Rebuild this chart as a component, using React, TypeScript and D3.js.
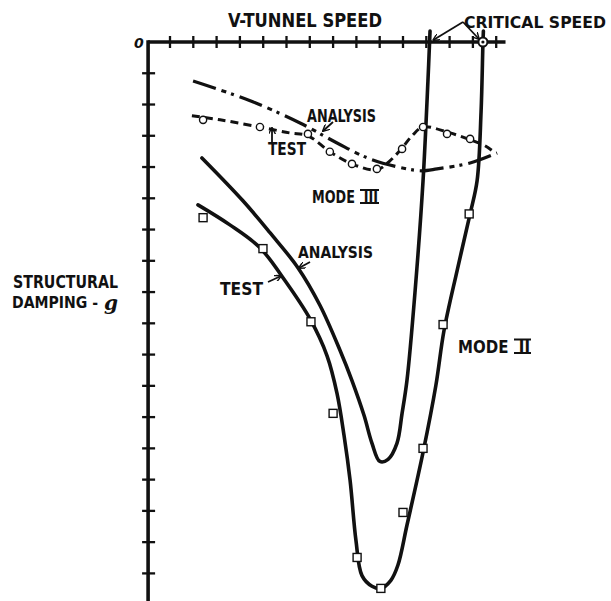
import React from "react";
import * as d3 from "d3";

// Axis ticks (V-tunnel speed units, structural damping units)
const xTicks = [1, 2, 3, 4, 5, 6, 7, 8, 9, 10, 11, 12, 13, 14, 15];
const yTicks = [-1, -2, -3, -4, -5, -6, -7, -8, -9, -10, -11, -12, -13, -14, -15, -16, -17];

// Critical speeds
const criticalSpeeds = [12.13, 14.43];

// Mode II – analysis curve [speed, g]
const mode2AnalysisX = [2.37, 4.13, 5.29, 6.49, 7.44, 8.3, 8.81, 9.33, 9.67, 10.01, 10.36, 10.74, 10.96, 11.17, 11.52, 11.86, 12.07, 12.16];
const mode2AnalysisY = [-3.71, -5.08, -6.1, -7.22, -8.43, -9.87, -10.83, -11.95, -12.84, -13.42, -13.35, -12.84, -11.88, -10.83, -7.96, -4.44, -1.25, 0.35];

// Mode II – test curve
const mode2TestX = [2.2, 3.57, 4.86, 5.94, 7.01, 7.74, 8.17, 8.47, 8.73, 8.98, 9.24, 9.67, 10.05, 10.48, 10.78, 11.17, 11.86, 12.41, 12.76, 13.32, 13.88, 14.18, 14.35, 14.43, 14.45];
const mode2TestY = [-5.21, -5.85, -6.58, -7.64, -8.86, -10.04, -11.25, -12.59, -14.03, -15.94, -17.07, -17.41, -17.48, -17.22, -16.74, -15.46, -13.13, -10.99, -9.23, -7.32, -5.5, -4.44, -2.24, -0.06, 0.35];

// Mode II – test points (squares)
const mode2PointsX = [2.42, 4.99, 7.05, 8.0, 9.03, 10.05, 11.0, 11.86, 12.72, 13.84];
const mode2PointsY = [-5.62, -6.61, -8.95, -11.88, -16.49, -17.48, -15.05, -13.0, -9.04, -5.5];

// Mode III – analysis curve
const mode3AnalysisX = [1.99, 4.44, 6.58, 8.17, 9.58, 11.17, 11.82, 12.46, 13.88, 15.04];
const mode3AnalysisY = [-1.25, -1.88, -2.59, -3.23, -3.74, -4.06, -4.12, -4.06, -3.87, -3.55];

// Mode III – test curve
const mode3TestX = [1.94, 3.15, 4.86, 6.15, 6.92, 7.86, 8.81, 9.88, 10.44, 10.96, 11.39, 11.86, 12.89, 13.88, 14.52, 14.95];
const mode3TestY = [-2.36, -2.49, -2.72, -2.91, -3.0, -3.51, -3.9, -4.09, -3.8, -3.39, -3.0, -2.72, -2.88, -3.13, -3.32, -3.55];

// Mode III – test points (circles)
const mode3PointsX = [2.42, 4.86, 6.92, 7.86, 8.81, 9.88, 10.96, 11.86, 12.89, 13.88];
const mode3PointsY = [-2.49, -2.72, -2.94, -3.51, -3.9, -4.06, -3.42, -2.72, -2.94, -3.1];

const W = 611;
const H = 601;

export default function App() {
  const x = d3.scaleLinear().domain([0, 15]).range([146.7, 496.2]);
  const y = d3.scaleLinear().domain([0, -17]).range([42, 573.4]);

  const line = d3
    .line<[number, number]>()
    .x((d) => x(d[0]))
    .y((d) => y(d[1]))
    .curve(d3.curveCatmullRom.alpha(0.5));

  const zip = (a: number[], b: number[]) => a.map((v, i) => [v, b[i]] as [number, number]);

  const axisY = y(0);
  const axisX = x(0.06);
  const font = "'DejaVu Sans', sans-serif";
  const ink = "#111";

  const label = (
    t: string,
    x0: number,
    base: number,
    len: number,
    size: number,
    key: string
  ) => (
    <text
      key={key}
      x={x0}
      y={base}
      fontFamily={font}
      fontWeight="bold"
      fontStretch="condensed"
      fontSize={size}
      fill={ink}
      textLength={len}
      lengthAdjust="spacingAndGlyphs"
    >
      {t}
    </text>
  );

  // bars over/under a roman numeral
  const bars = (x1: number, x2: number, top: number, bottom: number, key: string) => (
    <g key={key} stroke={ink} strokeWidth={2}>
      <line x1={x1} x2={x2} y1={top} y2={top} />
      <line x1={x1} x2={x2} y1={bottom} y2={bottom} />
    </g>
  );

  const arrow = (x1: number, y1: number, x2: number, y2: number, key: string) => (
    <line key={key} x1={x1} y1={y1} x2={x2} y2={y2} stroke={ink} strokeWidth={1.8} markerEnd="url(#ah)" />
  );

  return (
    <svg
      width={W}
      height={H}
      viewBox={`0 0 ${W} ${H}`}
      style={{ position: "absolute", left: 0, top: 0, background: "#fff" }}
    >
      <defs>
        <marker id="ah" viewBox="0 0 10 10" refX="9" refY="5" markerWidth="7" markerHeight="7" orient="auto-start-reverse" markerUnits="userSpaceOnUse">
          <path d="M0,0 L10,5 L0,10" fill="none" stroke={ink} strokeWidth={2} />
        </marker>
      </defs>
      <rect x={0} y={0} width={W} height={H} fill="#fff" />

      {/* axes */}
      <line x1={axisX} y1={axisY} x2={x(15.4)} y2={axisY} stroke={ink} strokeWidth={3.6} />
      <line x1={axisX} y1={axisY - 1.8} x2={axisX} y2={y(-18)} stroke={ink} strokeWidth={3.6} />
      {xTicks.map((t) => (
        <line key={"xt" + t} x1={x(t)} x2={x(t)} y1={axisY - 6} y2={axisY + 6} stroke={ink} strokeWidth={2.3} />
      ))}
      {yTicks.map((t) => (
        <line key={"yt" + t} x1={axisX - 6} x2={axisX + 7} y1={y(t)} y2={y(t)} stroke={ink} strokeWidth={2.3} />
      ))}
      <text x={134} y={48} fontFamily={font} fontWeight="bold" fontStyle="italic" fontSize={14} fill={ink}>0</text>

      {/* Mode II */}
      <path d={line(zip(mode2AnalysisX, mode2AnalysisY)) || ""} fill="none" stroke={ink} strokeWidth={3.6} strokeLinecap="round" />
      <path d={line(zip(mode2TestX, mode2TestY)) || ""} fill="none" stroke={ink} strokeWidth={3.6} strokeLinecap="round" />
      {mode2PointsX.map((v, i) => (
        <rect key={"sq" + i} x={x(v) - 4} y={y(mode2PointsY[i]) - 4} width={8} height={8} fill="#fff" stroke={ink} strokeWidth={1.4} />
      ))}

      {/* Mode III */}
      <path d={line(zip(mode3AnalysisX, mode3AnalysisY)) || ""} fill="none" stroke={ink} strokeWidth={3.2} strokeDasharray="24,6,5,5,3,6" />
      <path d={line(zip(mode3TestX, mode3TestY)) || ""} fill="none" stroke={ink} strokeWidth={3} strokeDasharray="8,5" />
      {mode3PointsX.map((v, i) => (
        <circle key={"c" + i} cx={x(v)} cy={y(mode3PointsY[i])} r={3.6} fill="#fff" stroke={ink} strokeWidth={1.4} />
      ))}

      {/* critical speed marker circle */}
      <circle cx={x(criticalSpeeds[1])} cy={axisY} r={4.5} fill="#fff" stroke={ink} strokeWidth={2} />
      <circle cx={x(criticalSpeeds[1])} cy={axisY} r={1.6} fill={ink} />

      {/* labels */}
      {label("V-TUNNEL SPEED", 228, 27, 154, 19, "l1")}
      {label("CRITICAL SPEED", 464, 28, 142, 16.5, "l2")}
      {arrow(463, 22, x(criticalSpeeds[0]) + 4, 40, "a1")}
      {arrow(463, 22, x(criticalSpeeds[1]) - 4, 39, "a2")}

      {label("ANALYSIS", 307, 122, 69, 17, "l3")}
      {arrow(333, 122, 323, 131, "a3")}
      {label("TEST", 268, 155, 38, 17, "l4")}
      {arrow(272, 142, 272, 128, "a4")}
      {label("MODE\u00a0\u00a0III", 312, 203, 66, 17, "l5")}
      {bars(360, 379, 190, 203, "b5")}

      {label("ANALYSIS", 298, 258, 75, 16.5, "l6")}
      {arrow(310, 262, 299, 268, "a5")}
      {label("TEST", 220, 295, 43, 18, "l7")}
      {arrow(268, 282, 281, 276, "a6")}
      {label("MODE\u00a0\u00a0II", 458, 353, 72, 18, "l8")}
      {bars(514, 531, 339.5, 353, "b8")}

      {label("STRUCTURAL", 13, 288, 105, 17, "l9")}
      {label("DAMPING -", 12, 308, 86, 16.5, "l10")}
      <text x={104} y={310} fill={ink} fontFamily="'DejaVu Serif', serif" fontStyle="italic" fontWeight="bold" fontSize={20}>
        g
      </text>
    </svg>
  );
}
